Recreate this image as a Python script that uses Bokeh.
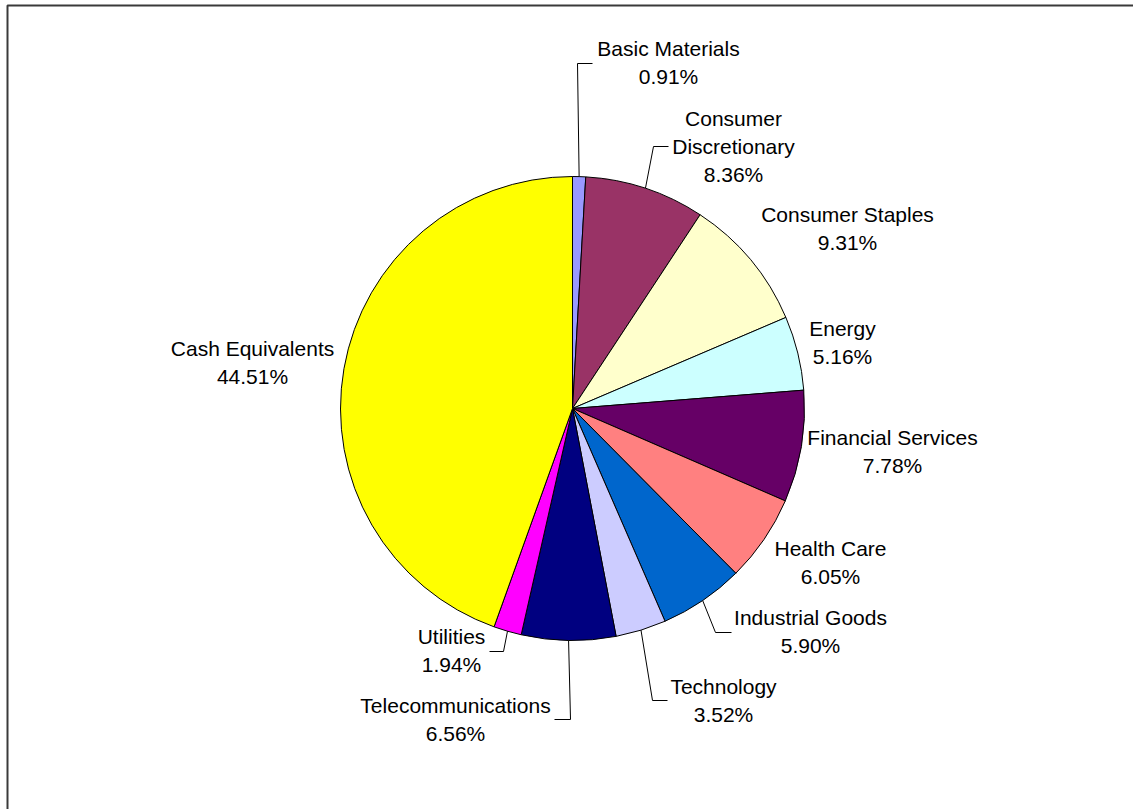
import numpy as np
from bokeh.plotting import figure
from bokeh.models import Range1d, ColumnDataSource
from bokeh.core.properties import value
from bokeh.embed import file_html
from bokeh.resources import INLINE

# ---- data ----
sectors = ["Basic Materials", "Consumer Discretionary", "Consumer Staples", "Energy",
           "Financial Services", "Health Care", "Industrial Goods", "Technology",
           "Telecommunications", "Utilities", "Cash Equivalents"]
percents = [0.91, 8.36, 9.31, 5.16, 7.78, 6.05, 5.90, 3.52, 6.56, 1.94, 44.51]
colors = ["#9999FF", "#993366", "#FFFFCC", "#CCFFFF", "#660066", "#FF8080",
          "#0066CC", "#CCCCFF", "#000080", "#FF00FF", "#FFFF00"]
label_names = ["Basic Materials", "Consumer\nDiscretionary", "Consumer Staples", "Energy",
               "Financial Services", "Health Care", "Industrial Goods", "Technology",
               "Telecommunications", "Utilities", "Cash Equivalents"]

# ---- layout (pixel coords, y down) ----
W, H = 1133, 809
CX, CY, R = 572, 408, 232
LINE_H = 28
label_pos = {
    "Basic Materials": (668, 48),
    "Consumer Discretionary": (733, 118),
    "Consumer Staples": (847, 214),
    "Energy": (842, 328),
    "Financial Services": (892, 437),
    "Health Care": (830, 548),
    "Industrial Goods": (810, 617),
    "Technology": (723, 686),
    "Telecommunications": (455, 705),
    "Utilities": (451, 636),
    "Cash Equivalents": (252, 348),
}
leader_pts = {
    "Basic Materials": [(577, 63), (592, 63)],
    "Consumer Discretionary": [(653, 146), (668, 146)],
    "Industrial Goods": [(715, 632), (731, 632)],
    "Technology": [(652, 700), (667, 700)],
    "Telecommunications": [(570, 719), (554, 719)],
    "Utilities": [(503, 651), (489, 651)],
}

def fy(y):
    return H - y

p = figure(width=W, height=H, x_range=Range1d(0, W), y_range=Range1d(0, H),
           output_backend="svg", toolbar_location=None, min_border=0,
           x_axis_location=None, y_axis_location=None)
p.grid.visible = False
p.outline_line_color = None
p.background_fill_color = "white"

frac = np.array(percents) / 100.0
cum = np.concatenate([[0.0], np.cumsum(frac)])
start = np.pi / 2 - 2 * np.pi * cum[:-1]
end = np.pi / 2 - 2 * np.pi * cum[1:]

src = ColumnDataSource(dict(start=start, end=end, color=colors, name=sectors))
p.wedge(x=CX, y=fy(CY), radius=R, radius_units="screen", start_angle="start",
        end_angle="end", direction="clock", fill_color="color",
        line_color="black", line_width=1, source=src)

# leaders
xs, ys = [], []
mid = (cum[:-1] + cum[1:]) / 2
for i, s in enumerate(sectors):
    if s in leader_pts:
        a = 2 * np.pi * mid[i]
        sx = CX + R * np.sin(a)
        sy = CY - R * np.cos(a)
        pts = [(sx, sy)] + leader_pts[s]
        xs.append([q[0] for q in pts])
        ys.append([fy(q[1]) for q in pts])
p.multi_line(xs=xs, ys=ys, line_color="black", line_width=1)

# labels
tx, ty, tt = [], [], []
for i, s in enumerate(sectors):
    lines = label_names[i].split("\n") + [f"{percents[i]:.2f}%"]
    lx, ly = label_pos[s]
    for k, ln in enumerate(lines):
        tx.append(lx)
        ty.append(fy(ly + k * LINE_H))
        tt.append(ln)
p.text(x=tx, y=ty, text=tt, text_align="center", text_baseline="middle",
       text_font=value("Liberation Sans"), text_font_size="21px", text_color="black")

# frame (partially visible chart border)
p.line(x=[7, 7, W + 20], y=[-20, fy(5), fy(5)], line_color="#3a3a3a", line_width=2)

open("out.html", "w").write(file_html(p, INLINE))
